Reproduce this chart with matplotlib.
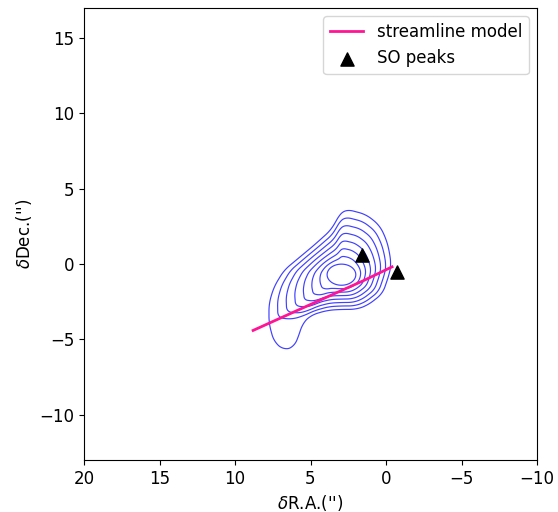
import numpy as np
import matplotlib
matplotlib.use("Agg")
import matplotlib.pyplot as plt

# outermost contour, traced (dRA, dDec in arcsec)
outer_ra = [2.65, 1.32, 0.44, 0.0, -0.23, -0.34, -0.23, 0.22, 1.21, 1.99, 2.87, 3.87, 4.98,
            5.53, 5.76, 6.09, 6.75, 7.42, 7.75, 7.75, 7.42, 6.75, 6.09, 4.76, 3.65, 2.99]
outer_dec = [3.65, 3.3, 2.59, 1.70, 0.82, -0.07, -0.62, -1.95, -2.73, -3.01, -3.0, -3.06, -3.39,
             -3.94, -4.7, -5.5, -5.72, -5.15, -3.94, -2.61, -1.51, -0.4, 0.15, 1.26, 2.26, 3.42]
# envelope of the inner contours (outer shape without the southern tail)
env_ra = [2.65, 1.32, 0.44, 0.0, -0.23, -0.34, -0.23, 0.22, 1.21, 1.99, 2.87, 3.87, 4.98,
          5.7, 6.6, 7.45, 7.75, 7.75, 7.42, 6.75, 6.09, 4.76, 3.65, 2.99]
env_dec = [3.65, 3.3, 2.59, 1.70, 0.82, -0.07, -0.62, -1.95, -2.73, -3.01, -3.0, -3.06, -3.39,
           -3.75, -4.05, -4.0, -3.94, -2.61, -1.51, -0.4, 0.15, 1.26, 2.26, 3.42]
peak_ra, peak_dec = 2.95, -0.7
tail_ra, tail_dec = 5.4, -2.0
inner_a, inner_b = 0.95, 0.7   # innermost contour half sizes (RA, Dec)
n_inner = 7

# streamline model (dRA, dDec)
stream_x = [8.8, 4.5, 1.5, -0.4]
stream_y = [-4.4, -2.45, -1.1, -0.18]

# SO peaks
so_x = [1.6, -0.75]
so_y = [0.6, -0.5]


def polar_profile(px, py, xc, yc, n=720, win=27):
    x = np.r_[px, px[0]]
    y = np.r_[py, py[0]]
    s = np.r_[0, np.cumsum(np.hypot(np.diff(x), np.diff(y)))]
    t = np.linspace(0, s[-1], n, endpoint=False)
    xs, ys = np.interp(t, s, x), np.interp(t, s, y)
    k = np.ones(win) / win
    xs = np.convolve(np.r_[xs[-win:], xs, xs[:win]], k, "same")[win:-win]
    ys = np.convolve(np.r_[ys[-win:], ys, ys[:win]], k, "same")[win:-win]
    ang = np.arctan2(ys - yc, xs - xc)
    rad = np.hypot(xs - xc, ys - yc)
    o = np.argsort(ang)
    return ang[o], rad[o]


xx, yy = np.meshgrid(np.linspace(-2, 10, 600), np.linspace(-7, 5, 600))

a_env, r_env = polar_profile(env_ra, env_dec, peak_ra, peak_dec)
phi = np.arctan2(yy - peak_dec, xx - peak_ra)
rho = np.hypot(xx - peak_ra, yy - peak_dec)
R = np.interp(phi, a_env, r_env, period=2 * np.pi)
r0 = inner_a * inner_b / np.hypot(inner_b * np.cos(phi), inner_a * np.sin(phi))
f_inner = n_inner * (rho - r0) / (R - r0)

a_out, r_out = polar_profile(outer_ra, outer_dec, tail_ra, tail_dec)
phi2 = np.arctan2(yy - tail_dec, xx - tail_ra)
rho2 = np.hypot(xx - tail_ra, yy - tail_dec)
f_outer = rho2 / np.interp(phi2, a_out, r_out, period=2 * np.pi)

fig = plt.figure(figsize=(5.58, 5.12), dpi=100)
ax = fig.add_axes([84 / 558, 52 / 512, 453 / 558, 452 / 512])
ax.contour(xx, yy, f_inner, levels=np.arange(n_inner), colors="#4040ff", linewidths=0.85)
ax.contour(xx, yy, f_outer, levels=[1], colors="#4040ff", linewidths=0.85)
ax.plot(stream_x, stream_y, color="#ff1493", lw=2, label="streamline model")
ax.scatter(so_x, so_y, marker="^", s=90, color="k", zorder=5, label="SO peaks")
ax.set_xlim(20, -10)
ax.set_ylim(-13, 17)
ax.set_xlabel(r"$\delta$R.A.('')", fontsize=12)
ax.set_ylabel(r"$\delta$Dec.('')", fontsize=12)
ax.tick_params(labelsize=12)
ax.legend(loc="upper right", fontsize=12)
fig.savefig("out.png", dpi=100)
